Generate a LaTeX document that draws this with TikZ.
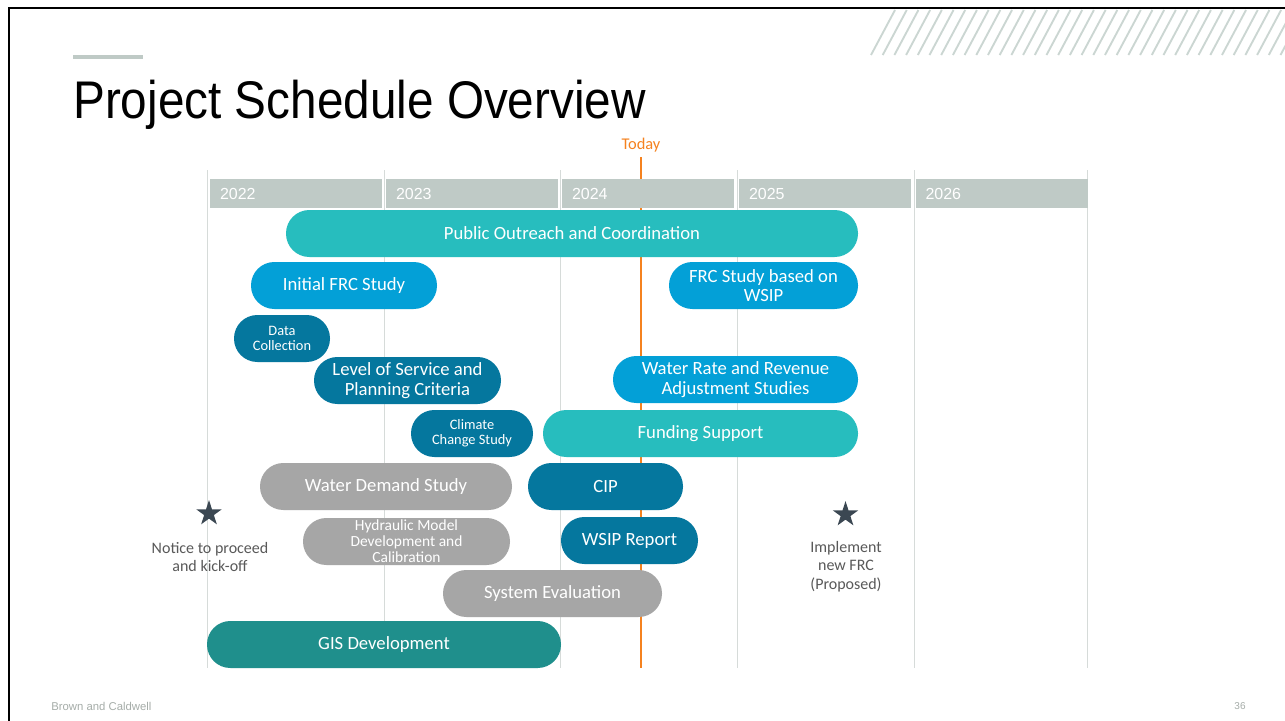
\documentclass[tikz,border=0pt]{standalone}
\usepackage{fontspec}
\setmainfont{Carlito}
\newfontfamily\titlefont[FakeStretch=0.9]{Liberation Sans}
\newfontfamily\yearfont{Liberation Sans}
\usetikzlibrary{shapes.geometric}
\definecolor{cTeal}{RGB}{39,189,190}
\definecolor{cBlue}{RGB}{3,160,215}
\definecolor{cDark}{RGB}{5,119,158}
\definecolor{cGrey}{RGB}{166,166,166}
\definecolor{cGreen}{RGB}{31,143,140}
\definecolor{cHdr}{RGB}{191,202,198}
\definecolor{cGrid}{RGB}{214,219,217}
\definecolor{cOrange}{RGB}{245,130,31}
\definecolor{cStar}{RGB}{59,71,82}
\definecolor{cLbl}{RGB}{89,89,89}
\definecolor{cFoot}{RGB}{166,173,169}
\definecolor{cHatch}{RGB}{203,214,210}
\begin{document}
\begin{tikzpicture}[x=0.75pt,y=-0.75pt,
  bar/.style={rounded corners=17.5pt, minimum height=35.25pt, inner sep=0pt,
    align=center, text=white, font=\fontsize{14}{14.6}\selectfont},
  smalltxt/.style={font=\fontsize{10.8}{11.5}\selectfont},
  hydtxt/.style={font=\fontsize{11.6}{12}\selectfont},
  hdr/.style={fill=cHdr, text=white, font=\yearfont\fontsize{12}{14}\selectfont,
    text width=114pt, inner xsep=7.5pt, text height=8.6pt, text depth=0pt,
    inner ysep=6.57pt, align=left},
  grid/.style={draw=cGrid, line width=0.7pt},
  todayline/.style={draw=cOrange, line width=2.2pt},
  milestone/.style={star, star points=5, star point ratio=2.6, fill=cStar,
    minimum size=20pt, inner sep=0pt},
  lbl/.style={text=cLbl, align=center, font=\fontsize{12}{14}\selectfont},
  hatch/.style={draw=cHatch, line width=1.4pt}]
\useasboundingbox (0,0) rectangle (1285,721);
\fill[white] (0,0) rectangle (1285,721);
% hatch decoration
\begin{scope}
\clip (0,0) rectangle (1285,721);
\foreach \k in {0,...,35} \draw[hatch] ({871+11.7*\k},55) -- ({895+11.7*\k},10);
\end{scope}
% slide border
\draw[line width=1.9pt] (9,721) -- (9,8) -- (1285,8);
% title
\draw[draw=cHdr, line width=3pt] (73,57) -- (143,57);
\node[anchor=base west, inner sep=0pt, font=\titlefont\fontsize{39.75}{42}\selectfont] (title) at (73,118) {Project Schedule Overview};
% grid
\foreach \x in {207,384,560,737,914,1087} \draw[grid] (\x,170) -- (\x,668);
% today
\node[text=cOrange, inner sep=0pt, font=\fontsize{12.3}{14}\selectfont] (today) at (641,145) {Today};
\coordinate (ttop) at (641,157);
\coordinate (tbot) at (641,668);
\draw[todayline] (ttop) -- (tbot);
% year header
\node[hdr] (y22) at (296,193.5) {2022};
\node[hdr] (y23) at (472,193.5) {2023};
\node[hdr] (y24) at (648,193.5) {2024};
\node[hdr] (y25) at (825,193.5) {2025};
\node[hdr] (y26) at (1001.5,193.5) {2026};
% bars
\node[bar, fill=cTeal, minimum width=429pt] (pub) at (572,233.5) {Public Outreach and Coordination};
\node[bar, fill=cBlue, minimum width=139.5pt] (ifrc) at (344,285.5) {Initial FRC Study};
\node[bar, fill=cBlue, minimum width=141.75pt] (frcw) at (763.5,285.5) {FRC Study based on\\WSIP};
\node[bar, smalltxt, fill=cDark, minimum width=72pt] (data) at (282,338.5) {Data\\Collection};
\node[bar, fill=cDark, minimum width=140.25pt] (los) at (407.5,380.5) {Level of Service and\\Planning Criteria};
\node[bar, fill=cBlue, minimum width=183.75pt] (rate) at (735.5,379.5) {Water Rate and Revenue\\Adjustment Studies};
\node[bar, smalltxt, fill=cDark, minimum width=91.5pt] (clim) at (472,433.5) {Climate\\Change Study};
\node[bar, fill=cTeal, minimum width=236.25pt] (fund) at (700.5,433.5) {Funding Support};
\node[bar, fill=cGrey, minimum width=189pt] (wds) at (386,486.5) {Water Demand Study};
\node[bar, fill=cDark, minimum width=116.25pt] (cip) at (605.5,486.5) {CIP};
\node[bar, hydtxt, fill=cGrey, minimum width=155.25pt] (hyd) at (406.5,541.5) {Hydraulic Model\\Development and\\Calibration};
\node[bar, fill=cDark, minimum width=102.75pt] (wsip) at (629.5,540.5) {WSIP Report};
\node[bar, fill=cGrey, minimum width=164.25pt] (sys) at (552.5,593.5) {System Evaluation};
\node[bar, fill=cGreen, minimum width=265.5pt] (gis) at (384,644.5) {GIS Development};
% milestones
\node[milestone] (s1) at (209,513.5) {};
\node[lbl] (l1) at (210,557) {Notice to proceed\\and kick-off};
\node[milestone] (s2) at (845.5,514.5) {};
\node[lbl] (l2) at (846,566.5) {Implement\\new FRC\\(Proposed)};
% footer
\node[anchor=west, inner sep=0pt, text=cFoot, font=\yearfont\fontsize{8.5}{10}\selectfont] (foot) at (51,706) {Brown and Caldwell};
\node[inner sep=0pt, text=cFoot, font=\yearfont\fontsize{7.5}{9}\selectfont] (page) at (1240,706) {36};
\end{tikzpicture}
\end{document}
